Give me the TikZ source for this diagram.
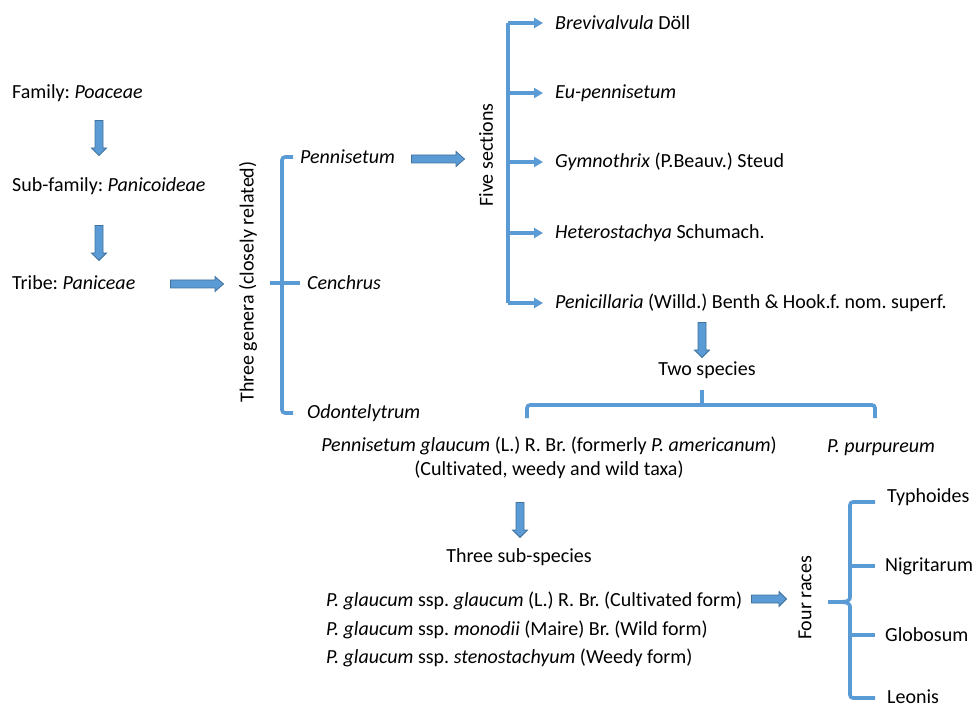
\documentclass[tikz,border=0pt]{standalone}
\usepackage{fontspec}
\setmainfont{Carlito}[Ligatures=NoCommon]
\usepackage{tikz}
\usetikzlibrary{arrows.meta}
\definecolor{brblue}{RGB}{91,155,213}
\definecolor{brdark}{RGB}{65,113,156}
\frenchspacing

\begin{document}
\begin{tikzpicture}[x=1pt,y=-1pt,
		txt/.style={inner sep=0pt,anchor=west,font=\fontsize{20}{24}\selectfont},
		brk/.style={draw=brblue,line width=3.6pt,rounded corners=3pt},
		blk/.pic={\draw[brdark,fill=brblue,line width=0.8pt,line join=miter]
			(-17.5,-4) -- (10,-4) -- (10,-7.5) -- (17.5,0) -- (10,7.5) -- (10,4) -- (-17.5,4) -- cycle;},
		blklong/.pic={\draw[brdark,fill=brblue,line width=0.8pt,line join=miter]
			(-26.5,-4) -- (18,-4) -- (18,-7.5) -- (26.5,0) -- (18,7.5) -- (18,4) -- (-26.5,4) -- cycle;}]
		\useasboundingbox (0,0) rectangle (974,708);
		
		\node[txt](fam)at(12,93) {Family: \textit{Poaceae}};
		\node[txt](subfam)at(12,186) {Sub-family: \textit{Panicoideae}};
		\node[txt](tribe)at(12,283) {Tribe: \textit{Paniceae}};
		\pic[rotate=-90] at (99,138) {blk};
		\pic[rotate=-90] at (99,243) {blk};
		\pic at (197,284) {blklong};
		
		\node[txt,anchor=center,rotate=90](genera)at(248,282) {Three genera (closely related)};
		\node[txt](penn)at(300,157) {\textit{Pennisetum}};
		\node[txt](cenc)at(307,283) {\textit{Cenchrus}};
		\node[txt](odon)at(307,413) {\textit{Odontelytrum}};
		\draw[brk]([xshift=-7pt]penn.west) -- ++(-11,0) |- ([xshift=-14pt]odon.west);
		\draw[brk]([xshift=-37pt]cenc.west) -- ([xshift=-7pt]cenc.west);
		\pic at (438,159) {blklong};
		
		\node[txt,anchor=center,rotate=90](five)at(486,155) {Five sections};
		\node[txt](s1)at(555,23) {\textit{Brevivalvula} Döll};
		\node[txt](s2)at(555,93) {\textit{Eu-pennisetum}};
		\node[txt](s3)at(555,162) {\textit{Gymnothrix} (P.Beauv.) Steud};
		\node[txt](s4)at(555,233) {\textit{Heterostachya} Schumach.};
		\node[txt](s5)at(555,303) {\textit{Penicillaria} (Willd.) Benth \& Hook.f. nom. superf.};
		\coordinate(trunk)at(508,0);
		\draw[brk](trunk |- s1.west) -- (trunk |- s5.west);
		\foreach \s in {s1,s2,s3,s4,s5}
			\draw[brk,-{Triangle[length=9pt,width=10pt]}](trunk |- \s.west) -- ([xshift=-12pt]\s.west);
		
		\pic[rotate=-90] at (702,340) {blk};
		\node[txt,anchor=center](two)at(707,370) {Two species};
		\node[txt,anchor=center](glau)at(549,446) {\textit{Pennisetum glaucum} (L.) R. Br. (formerly \textit{P. americanum})};
		\node[txt,anchor=center](taxa)at(549,470) {(Cultivated, weedy and wild taxa)};
		\node[txt,anchor=center](purp)at(881,448) {\textit{P. purpureum}};
		\draw[brk](527,418) -- (527,405) -- (875,405) -- (875,418);
		\draw[brk](702,405) -- (702,390);
		
		\pic[rotate=-90] at (520,520) {blk};
		\node[txt,anchor=center](three)at(519,557) {Three sub-species};
		\node[txt](ss1)at(326,601) {\textit{P. glaucum} ssp. \textit{glaucum} (L.) R. Br. (Cultivated form)};
		\node[txt](ss2)at(326,630) {\textit{P. glaucum} ssp. \textit{monodii} (Maire) Br. (Wild form)};
		\node[txt](ss3)at(326,658) {\textit{P. glaucum} ssp. \textit{stenostachyum} (Weedy form)};
		\pic at (769,599) {blk};
		
		\node[txt,anchor=center,rotate=90](four)at(805,598) {Four races};
		\node[txt](r1)at(887,497) {Typhoides};
		\node[txt](r2)at(885,566) {Nigritarum};
		\node[txt](r3)at(885,635) {Globosum};
		\node[txt](r4)at(887,697) {Leonis};
		\draw[brk](875,502) -- (850,502) -- (850,592) .. controls (850,602) .. (828,602);
		\draw[brk](875,698) -- (850,698) -- (850,612) .. controls (850,602) .. (828,602);
		\draw[brk]([xshift=-35pt]r2.west) -- ([xshift=-10pt]r2.west);
		\draw[brk]([xshift=-35pt]r3.west) -- ([xshift=-10pt]r3.west);
	\end{tikzpicture}
\end{document}
